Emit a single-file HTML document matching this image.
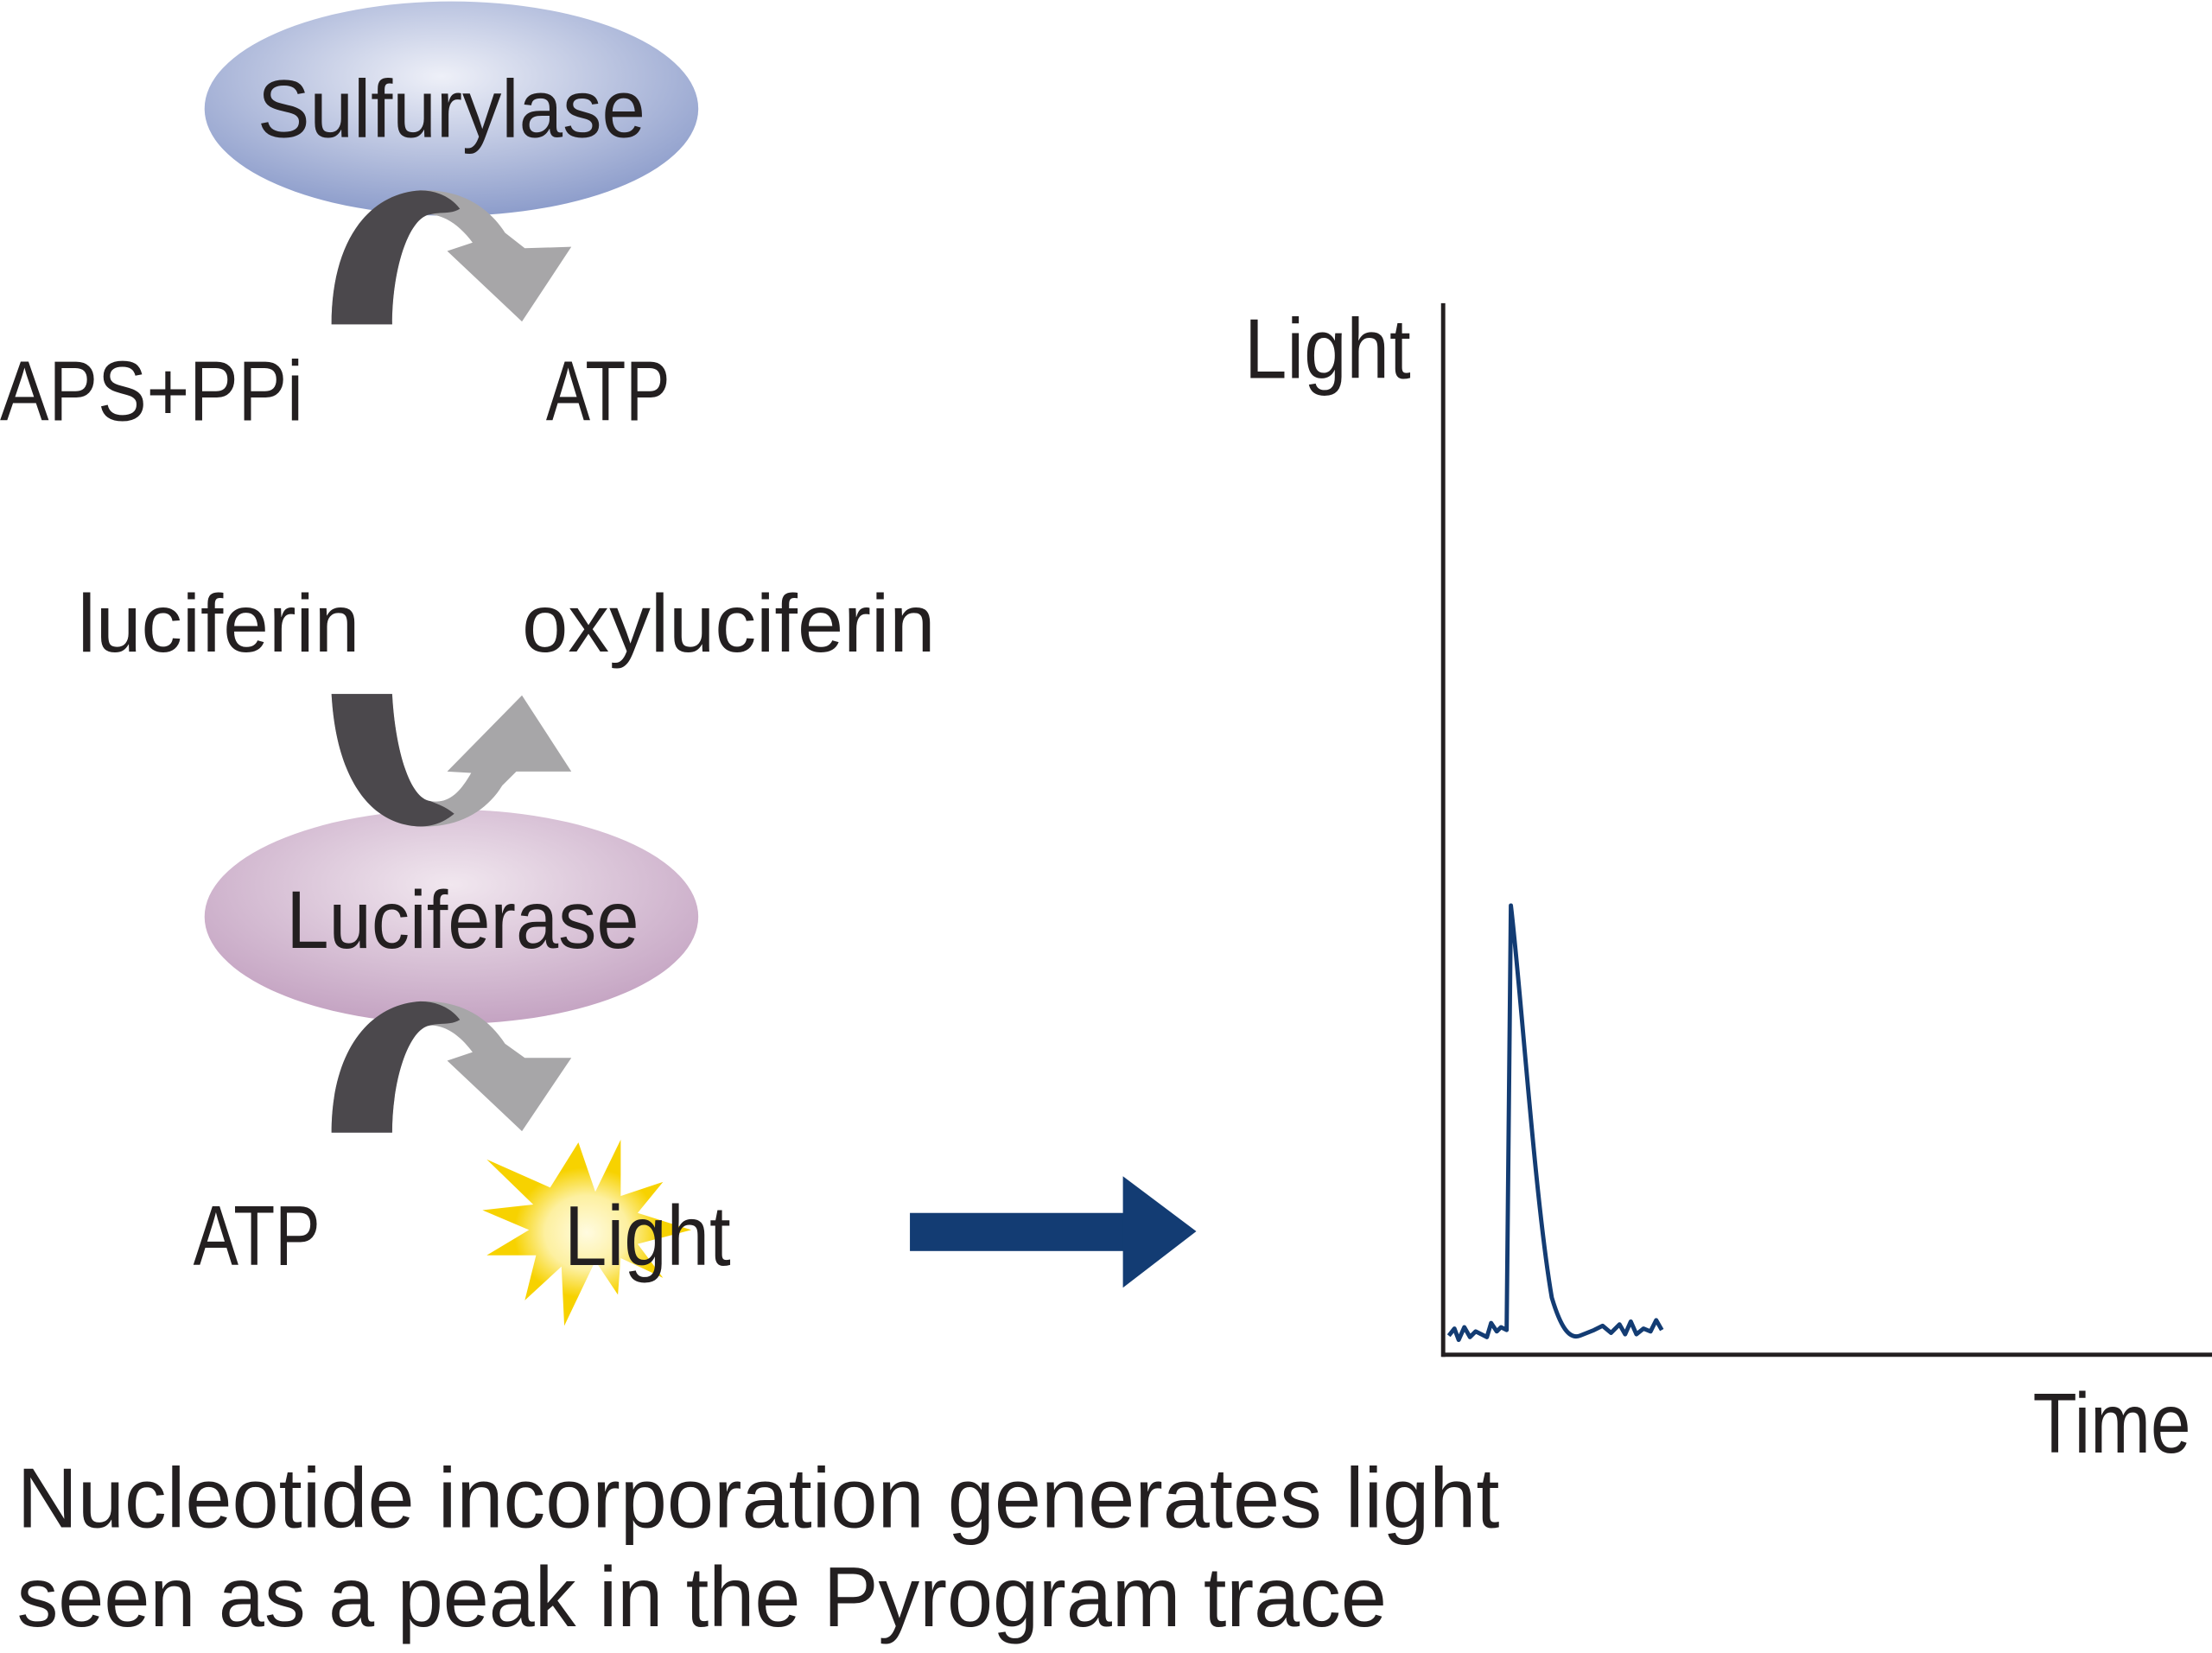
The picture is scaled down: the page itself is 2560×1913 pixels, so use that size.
<!DOCTYPE html>
<html><head><meta charset="utf-8"><style>
html,body{margin:0;padding:0;background:#fff;}
svg{display:block;}
text{font-family:"Liberation Sans",sans-serif;fill:#231f20;}
</style></head><body>
<svg width="2560" height="1913" viewBox="0 0 1568 1172" preserveAspectRatio="none" xmlns="http://www.w3.org/2000/svg">
<defs>
<radialGradient id="gb" cx="0.48" cy="0.35" r="0.65">
<stop offset="0" stop-color="#eef0f8"/><stop offset="1" stop-color="#8d9dcb"/></radialGradient>
<radialGradient id="gp" cx="0.5" cy="0.35" r="0.65">
<stop offset="0" stop-color="#f1e7ef"/><stop offset="1" stop-color="#c4a3c2"/></radialGradient>
<radialGradient id="gy" cx="0.5" cy="0.5" r="0.5">
<stop offset="0" stop-color="#fffbe0"/><stop offset="0.4" stop-color="#fdf0a0"/><stop offset="0.7" stop-color="#f7d200"/></radialGradient>
</defs>
<rect width="1568" height="1172" fill="#fff"/>

<ellipse cx="320" cy="77" rx="175" ry="76" fill="url(#gb)"/>
<text x="320" y="97" font-size="58" text-anchor="middle" textLength="275" lengthAdjust="spacingAndGlyphs">Sulfurylase</text>
<path d="M235,230 C235,170 262,137 298,135 C325,134 345,145 358,165 L372,176 L405,175 L370,228 L317,178 L335,172 C326,160 316,153 305,152 C290,154 278,190 278,230 Z" fill="#a7a6a8"/>
<path d="M235,230 C235,170 262,137 298,135 C310,135 320,140 326,148 C320,152 312,150 305,152 C290,154 278,190 278,230 Z" fill="#4b484c"/>

<text x="0" y="298" font-size="60" textLength="215" lengthAdjust="spacingAndGlyphs">APS+PPi</text>
<text x="387" y="298" font-size="60" textLength="88" lengthAdjust="spacingAndGlyphs">ATP</text>
<text x="55" y="462" font-size="58" textLength="200" lengthAdjust="spacingAndGlyphs">luciferin</text>
<text x="370" y="462" font-size="58" textLength="293" lengthAdjust="spacingAndGlyphs">oxyluciferin</text>

<ellipse cx="320" cy="650" rx="175" ry="76" fill="url(#gp)"/>
<text x="328" y="672" font-size="58" text-anchor="middle" textLength="250" lengthAdjust="spacingAndGlyphs">Luciferase</text>
<path d="M235,492 C238,548 260,585 298,586 C325,587 345,575 356,557 L366,547 L405,547 L370,493 L317,547 L334,548 C326,562 318,570 305,568 C290,566 280,530 278,492 Z" fill="#a7a6a8"/>
<path d="M235,492 C238,548 260,585 298,586 C308,586 316,582 322,577 C316,572 310,570 305,568 C290,566 280,530 278,492 Z" fill="#4b484c"/>

<path d="M235,803 C235,745 262,712 298,710 C325,709 345,720 358,740 L372,750 L405,750 L370,802 L317,752 L335,746 C326,734 316,727 305,727 C290,729 278,765 278,803 Z" fill="#a7a6a8"/>
<path d="M235,803 C235,745 262,712 298,710 C310,710 320,715 326,723 C320,727 312,725 305,727 C290,729 278,765 278,803 Z" fill="#4b484c"/>

<text x="137" y="897" font-size="60" textLength="90" lengthAdjust="spacingAndGlyphs">ATP</text>
<polygon points="410,810 422,845 440,808 440,848 470,838 452,860 490,872 452,882 470,906 440,892 438,918 422,894 400,940 398,898 372,922 380,890 345,890 375,872 342,858 378,854 345,822 390,842" fill="url(#gy)"/>
<text x="400" y="897" font-size="60" textLength="118" lengthAdjust="spacingAndGlyphs">Light</text>

<rect x="645" y="860" width="155" height="27" fill="#133c73"/>
<polygon points="796,834 848,873 796,913" fill="#133c73"/>

<line x1="1023" y1="215" x2="1023" y2="962" stroke="#231f20" stroke-width="3"/>
<line x1="1022" y1="960.5" x2="1568" y2="960.5" stroke="#231f20" stroke-width="3"/>
<text x="1000" y="268" font-size="60" text-anchor="end" textLength="118" lengthAdjust="spacingAndGlyphs">Light</text>
<text x="1553" y="1030" font-size="60" text-anchor="end" textLength="112" lengthAdjust="spacingAndGlyphs">Time</text>
<path d="M1027,947 L1031,942 L1034,950 L1038,941 L1042,948 L1046,944 L1050,946 L1054,948 L1057,938 L1061,944 L1064,941 L1068,943 L1071,642 C1078,700 1088,850 1100,920 C1106,940 1112,950 1120,947 L1130,943 L1136,940 L1142,945 L1148,939 L1152,946 L1156,937 L1160,946 L1165,942 L1170,944 L1174,936 L1178,943" fill="none" stroke="#133c73" stroke-width="3" stroke-linejoin="round"/>

<text x="12" y="1083" font-size="60" textLength="1051" lengthAdjust="spacingAndGlyphs">Nucleotide incorporation generates light</text>
<text x="12" y="1153" font-size="60" textLength="971" lengthAdjust="spacingAndGlyphs">seen as a peak in the Pyrogram trace</text>
</svg>
</body></html>
